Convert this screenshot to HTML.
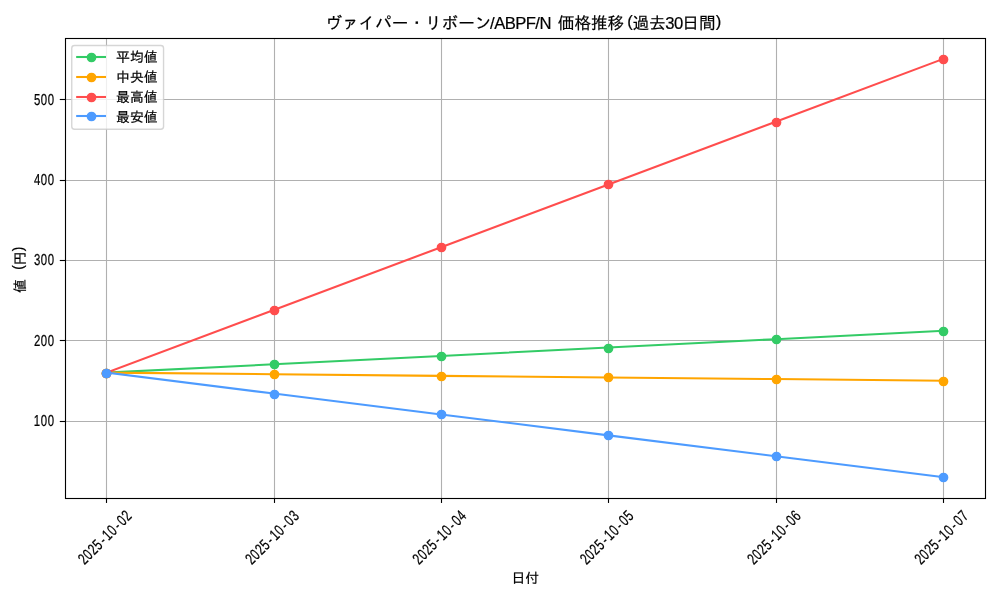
<!DOCTYPE html>
<html lang="ja">
<head>
<meta charset="utf-8">
<title>価格推移</title>
<style>
html,body{margin:0;padding:0;background:#fff;}
body{width:1000px;height:600px;overflow:hidden;}
svg{display:block;will-change:transform;}
text{font-family:"Liberation Sans", "IPAGothic", sans-serif;fill:#000;stroke:#000;stroke-width:0.2px;}
.tk text{stroke-width:0.2px;text-rendering:geometricPrecision;}
</style>
</head>
<body>
<svg width="1000" height="600" viewBox="0 0 1000 600">
<rect x="0" y="0" width="1000" height="600" fill="#ffffff"/>
<g stroke="#b0b0b0" stroke-width="1.111" fill="none">
<line x1="106.5" y1="38.5" x2="106.5" y2="498.5"/>
<line x1="274.5" y1="38.5" x2="274.5" y2="498.5"/>
<line x1="441.5" y1="38.5" x2="441.5" y2="498.5"/>
<line x1="608.5" y1="38.5" x2="608.5" y2="498.5"/>
<line x1="776.5" y1="38.5" x2="776.5" y2="498.5"/>
<line x1="943.5" y1="38.5" x2="943.5" y2="498.5"/>
<line x1="65.5" y1="421.5" x2="985.5" y2="421.5"/>
<line x1="65.5" y1="340.5" x2="985.5" y2="340.5"/>
<line x1="65.5" y1="260.5" x2="985.5" y2="260.5"/>
<line x1="65.5" y1="180.5" x2="985.5" y2="180.5"/>
<line x1="65.5" y1="99.5" x2="985.5" y2="99.5"/>
</g>
<g stroke="#33cb66" fill="#33cb66">
<polyline points="106.48,372.65 273.80,364.28 441.12,355.92 608.43,347.55 775.75,339.19 943.07,330.83" fill="none" stroke-width="2.083" stroke-linecap="square" stroke-linejoin="round"/>
<circle cx="106.5" cy="373.5" r="4.167" stroke-width="1.389"/>
<circle cx="274.5" cy="364.5" r="4.167" stroke-width="1.389"/>
<circle cx="441.5" cy="356.5" r="4.167" stroke-width="1.389"/>
<circle cx="608.5" cy="348.5" r="4.167" stroke-width="1.389"/>
<circle cx="776.5" cy="339.5" r="4.167" stroke-width="1.389"/>
<circle cx="943.5" cy="331.5" r="4.167" stroke-width="1.389"/>
</g>
<g stroke="#ffa500" fill="#ffa500">
<polyline points="106.48,372.65 273.80,374.25 441.12,375.86 608.43,377.47 775.75,379.08 943.07,380.69" fill="none" stroke-width="2.083" stroke-linecap="square" stroke-linejoin="round"/>
<circle cx="106.5" cy="373.5" r="4.167" stroke-width="1.389"/>
<circle cx="274.5" cy="374.5" r="4.167" stroke-width="1.389"/>
<circle cx="441.5" cy="376.5" r="4.167" stroke-width="1.389"/>
<circle cx="608.5" cy="377.5" r="4.167" stroke-width="1.389"/>
<circle cx="776.5" cy="379.5" r="4.167" stroke-width="1.389"/>
<circle cx="943.5" cy="381.5" r="4.167" stroke-width="1.389"/>
</g>
<g stroke="#ff4d4d" fill="#ff4d4d">
<polyline points="106.48,372.65 273.80,309.92 441.12,247.19 608.43,184.46 775.75,121.74 943.07,59.01" fill="none" stroke-width="2.083" stroke-linecap="square" stroke-linejoin="round"/>
<circle cx="106.5" cy="373.5" r="4.167" stroke-width="1.389"/>
<circle cx="274.5" cy="310.5" r="4.167" stroke-width="1.389"/>
<circle cx="441.5" cy="247.5" r="4.167" stroke-width="1.389"/>
<circle cx="608.5" cy="184.5" r="4.167" stroke-width="1.389"/>
<circle cx="776.5" cy="122.5" r="4.167" stroke-width="1.389"/>
<circle cx="943.5" cy="59.5" r="4.167" stroke-width="1.389"/>
</g>
<g stroke="#4d9bff" fill="#4d9bff">
<polyline points="106.48,372.65 273.80,393.55 441.12,414.46 608.43,435.37 775.75,456.28 943.07,477.19" fill="none" stroke-width="2.083" stroke-linecap="square" stroke-linejoin="round"/>
<circle cx="106.5" cy="373.5" r="4.167" stroke-width="1.389"/>
<circle cx="274.5" cy="394.5" r="4.167" stroke-width="1.389"/>
<circle cx="441.5" cy="414.5" r="4.167" stroke-width="1.389"/>
<circle cx="608.5" cy="435.5" r="4.167" stroke-width="1.389"/>
<circle cx="776.5" cy="456.5" r="4.167" stroke-width="1.389"/>
<circle cx="943.5" cy="477.5" r="4.167" stroke-width="1.389"/>
</g>
<rect x="65.5" y="38.5" width="920.0" height="460.0" fill="none" stroke="#000" stroke-width="1.111" stroke-linejoin="miter"/>
<g stroke="#000" stroke-width="1.111">
<line x1="106.5" y1="498.5" x2="106.5" y2="502.96"/>
<line x1="274.5" y1="498.5" x2="274.5" y2="502.96"/>
<line x1="441.5" y1="498.5" x2="441.5" y2="502.96"/>
<line x1="608.5" y1="498.5" x2="608.5" y2="502.96"/>
<line x1="776.5" y1="498.5" x2="776.5" y2="502.96"/>
<line x1="943.5" y1="498.5" x2="943.5" y2="502.96"/>
<line x1="59.79" y1="421.5" x2="65.5" y2="421.5"/>
<line x1="59.79" y1="340.5" x2="65.5" y2="340.5"/>
<line x1="59.79" y1="260.5" x2="65.5" y2="260.5"/>
<line x1="59.79" y1="180.5" x2="65.5" y2="180.5"/>
<line x1="59.79" y1="99.5" x2="65.5" y2="99.5"/>
</g>
<g class="tk">
<text transform="translate(33.72,425.9) scale(0.82,1.14)" x="0.13 8.69 17.05" y="0" font-size="13.89">100</text>
<text transform="translate(33.72,345.9) scale(0.82,1.14)" x="0.32 8.69 17.05" y="0" font-size="13.89">200</text>
<text transform="translate(33.72,264.9) scale(0.82,1.14)" x="0.36 8.69 17.05" y="0" font-size="13.89">300</text>
<text transform="translate(33.72,184.9) scale(0.82,1.14)" x="0.36 8.69 17.05" y="0" font-size="13.89">400</text>
<text transform="translate(33.72,104.9) scale(0.82,1.14)" x="0.33 8.69 17.05" y="0" font-size="13.89">500</text>
</g>
<g class="tk">
<g transform="translate(104.68,537.35) rotate(-45)"><text transform="translate(-34.3,5.4) scale(0.82,1.14)" x="0.32 8.69 17.05 25.43 35.33 41.96 50.52 60.43 67.25 75.61" y="0" font-size="13.89">2025-10-02</text></g>
<g transform="translate(272,537.35) rotate(-45)"><text transform="translate(-34.3,5.4) scale(0.82,1.14)" x="0.32 8.69 17.05 25.43 35.33 41.96 50.52 60.43 67.25 75.65" y="0" font-size="13.89">2025-10-03</text></g>
<g transform="translate(439.32,537.35) rotate(-45)"><text transform="translate(-34.3,5.4) scale(0.82,1.14)" x="0.32 8.69 17.05 25.43 35.33 41.96 50.52 60.43 67.25 75.66" y="0" font-size="13.89">2025-10-04</text></g>
<g transform="translate(606.63,537.35) rotate(-45)"><text transform="translate(-34.3,5.4) scale(0.82,1.14)" x="0.32 8.69 17.05 25.43 35.33 41.96 50.52 60.43 67.25 75.63" y="0" font-size="13.89">2025-10-05</text></g>
<g transform="translate(773.95,537.35) rotate(-45)"><text transform="translate(-34.3,5.4) scale(0.82,1.14)" x="0.32 8.69 17.05 25.43 35.33 41.96 50.52 60.43 67.25 75.57" y="0" font-size="13.89">2025-10-06</text></g>
<g transform="translate(941.27,537.35) rotate(-45)"><text transform="translate(-34.3,5.4) scale(0.82,1.14)" x="0.32 8.69 17.05 25.43 35.33 41.96 50.52 60.43 67.25 75.61" y="0" font-size="13.89">2025-10-07</text></g>
</g>
<text x="511.41" y="583.4" font-size="13.89">日付</text>
<g transform="translate(25.2,292.95) rotate(-90)"><text x="0 13.8 23.23 27.6 41.7" y="0 0 -1.81 0 -1.81" font-size="13.89" xml:space="preserve">値 (円)</text></g>
<text x="325.4 342 358.6 375.2 391.8 408.4 425 441.6 458.2 474.8 489.98 494.33 504.78 515.23 525.68 535.25 539.6 550.92 557.8 574.4 591 607.6 627.24 632.5 649.1 665.29 674 682.3 698.9 715.87" y="29.2 29.2 29.2 29.2 29.2 29.2 29.2 29.2 29.2 29.2 29.2 29.2 29.2 29.2 29.2 29.2 29.2 29.2 29.2 29.2 29.2 29.2 27.03 29.2 29.2 29.2 29.2 29.2 29.2 27.03" font-size="16.67" xml:space="preserve">ヴァイパー・リボーン/ABPF/N 価格推移(過去30日間)</text>
<rect x="71.75" y="45.55" width="91.8" height="83.65" rx="2.8" ry="2.8" fill="#ffffff" fill-opacity="0.8" stroke="#cccccc" stroke-opacity="0.8" stroke-width="1.389"/>
<g stroke="#33cb66" fill="#33cb66"><line x1="77.20" y1="57.0" x2="104.98" y2="57.0" stroke-width="2.083" stroke-linecap="square"/><circle cx="91.5" cy="57.5" r="4.167" stroke-width="1.389"/></g>
<text x="116.09" y="61.9" font-size="13.89">平均値</text>
<g stroke="#ffa500" fill="#ffa500"><line x1="77.20" y1="77.0" x2="104.98" y2="77.0" stroke-width="2.083" stroke-linecap="square"/><circle cx="91.5" cy="77.5" r="4.167" stroke-width="1.389"/></g>
<text x="116.09" y="82" font-size="13.89">中央値</text>
<g stroke="#ff4d4d" fill="#ff4d4d"><line x1="77.20" y1="97.0" x2="104.98" y2="97.0" stroke-width="2.083" stroke-linecap="square"/><circle cx="91.5" cy="97.5" r="4.167" stroke-width="1.389"/></g>
<text x="116.09" y="101.8" font-size="13.89">最高値</text>
<g stroke="#4d9bff" fill="#4d9bff"><line x1="77.20" y1="116.0" x2="104.98" y2="116.0" stroke-width="2.083" stroke-linecap="square"/><circle cx="91.5" cy="116.5" r="4.167" stroke-width="1.389"/></g>
<text x="116.09" y="122" font-size="13.89">最安値</text>
</svg>
</body>
</html>
